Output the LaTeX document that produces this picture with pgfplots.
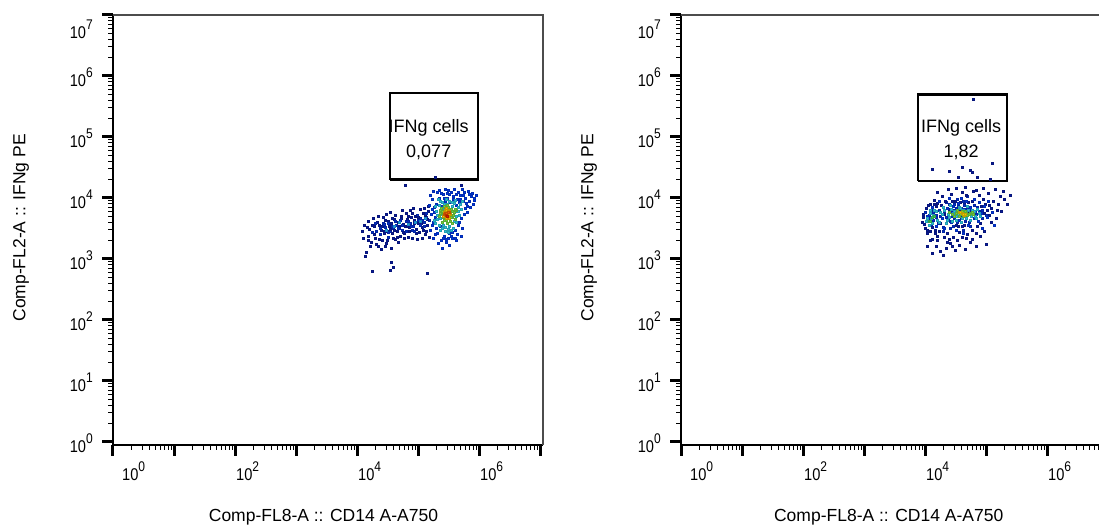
\documentclass[border=0pt]{standalone}
\usepackage{graphicx}
\usepackage{pgfplots}
\pgfplotsset{compat=1.18}
\usepackage{pgfplotstable}
\usepackage{fontspec}
\setmainfont{Liberation Sans}
\pgfplotsset{colormap={flowjo}{rgb255=(12,12,120) rgb255=(0,60,235) rgb255=(40,195,235) rgb255=(60,205,90) rgb255=(235,230,0) rgb255=(255,140,0) rgb255=(220,30,0)}}
\newcommand{\fjl}[1]{\scalebox{0.86}[1]{\fontsize{17}{17}\selectfont 10\raisebox{9pt}{\fontsize{14}{14}\selectfont #1}}}

% Left panel events (CD14 vs IFNg), c = relative density (0 low .. 1 high)
\pgfplotstableread{
x y c
1.5e4 2.4e3 0.05
1.6e4 3.1e3 0.05
1.7e4 1.9e3 0.05
1.8e4 2.7e3 0.12
1.9e4 3.4e3 0.05
2.0e4 2.2e3 0.05
2.1e4 2.9e3 0.12
2.2e4 1.6e3 0.05
2.3e4 3.6e3 0.05
2.4e4 2.5e3 0.12
2.5e4 3.0e3 0.05
2.6e4 2.0e3 0.05
2.7e4 3.9e3 0.12
2.8e4 2.6e3 0.05
2.9e4 3.3e3 0.12
3.0e4 1.8e3 0.05
3.1e4 2.8e3 0.05
3.2e4 4.2e3 0.05
3.3e4 2.3e3 0.12
3.4e4 3.5e3 0.05
3.5e4 2.9e3 0.12
3.6e4 1.5e3 0.05
3.7e4 3.8e3 0.05
3.8e4 2.6e3 0.05
3.9e4 3.2e3 0.12
4.0e4 4.5e3 0.05
4.2e4 2.1e3 0.05
4.4e4 3.6e3 0.12
4.6e4 2.8e3 0.05
4.8e4 4.0e3 0.05
5.0e4 3.2e3 0.12
5.2e4 2.4e3 0.05
5.4e4 4.6e3 0.05
5.6e4 3.0e3 0.12
5.8e4 3.7e3 0.05
6.0e4 2.6e3 0.05
6.3e4 4.2e3 0.12
6.6e4 3.4e3 0.05
6.9e4 5.0e3 0.05
7.2e4 2.9e3 0.05
7.5e4 3.9e3 0.12
7.8e4 4.8e3 0.05
8.1e4 2.2e3 0.05
8.4e4 3.5e3 0.12
8.8e4 4.4e3 0.05
9.2e4 3.1e3 0.05
9.6e4 5.3e3 0.12
1.0e5 3.8e3 0.05
1.05e5 2.7e3 0.05
1.1e5 4.6e3 0.12
1.15e5 3.3e3 0.05
1.2e5 5.6e3 0.05
1.25e5 4.0e3 0.12
1.3e5 2.5e3 0.05
1.35e5 4.9e3 0.12
1.4e5 3.6e3 0.05
1.45e5 6.0e3 0.05
1.5e5 4.3e3 0.12
1.45e4 3.3e3 0.05
1.55e4 2.0e3 0.05
1.75e4 3.6e3 0.05
1.95e4 2.5e3 0.05
2.15e4 4.0e3 0.05
2.35e4 2.1e3 0.05
2.55e4 3.4e3 0.05
2.75e4 2.9e3 0.05
2.95e4 4.4e3 0.05
3.15e4 2.0e3 0.05
3.45e4 3.1e3 0.05
3.75e4 4.7e3 0.05
4.1e4 3.0e3 0.05
4.5e4 2.3e3 0.05
4.9e4 3.5e3 0.05
5.3e4 5.1e3 0.05
5.7e4 2.7e3 0.05
6.2e4 3.5e3 0.05
6.7e4 4.5e3 0.05
7.3e4 3.3e3 0.05
7.9e4 5.6e3 0.05
8.6e4 3.8e3 0.05
9.4e4 2.6e3 0.05
1.02e5 4.9e3 0.05
1.12e5 3.9e3 0.05
1.22e5 3.0e3 0.05
1.32e5 5.3e3 0.05
1.42e5 4.5e3 0.05
1.5e4 4.2e3 0.05
1.65e4 1.6e3 0.05
1.85e4 4.6e3 0.05
2.05e4 1.75e3 0.05
2.25e4 5.0e3 0.05
2.45e4 1.45e3 0.05
2.65e4 4.8e3 0.05
2.85e4 1.65e3 0.05
3.05e4 5.4e3 0.05
3.25e4 3.9e3 0.12
3.55e4 5.8e3 0.05
3.85e4 2.2e3 0.05
4.3e4 5.2e3 0.05
4.7e4 1.9e3 0.05
5.1e4 4.3e3 0.12
5.5e4 6.2e3 0.05
5.9e4 2.2e3 0.05
6.4e4 5.6e3 0.05
6.9e4 2.3e3 0.05
7.4e4 6.4e3 0.05
8.0e4 3.0e3 0.12
8.3e4 6.8e3 0.05
9.0e4 5.0e3 0.05
9.8e4 2.1e3 0.05
1.07e5 6.6e3 0.05
1.17e5 2.2e3 0.05
1.27e5 6.9e3 0.05
1.37e5 2.9e3 0.05
1.47e5 7.4e3 0.05
1.55e5 2.3e3 0.05
1.2e4 2.8e3 0.05
1.3e4 3.6e3 0.05
1.25e4 2.2e3 0.05
2.0e4 3.9e3 0.12
2.4e4 3.2e3 0.12
2.8e4 3.7e3 0.12
3.3e4 2.7e3 0.12
3.8e4 3.5e3 0.12
4.2e4 4.1e3 0.12
4.7e4 3.2e3 0.12
5.5e4 3.6e3 0.12
6.5e4 2.9e3 0.12
7.0e4 4.1e3 0.12
7.7e4 3.5e3 0.12
8.8e4 2.8e3 0.12
9.9e4 4.3e3 0.12
1.08e5 3.6e3 0.12
1.18e5 4.4e3 0.12
1.28e5 3.4e3 0.12
1.38e5 5.7e3 0.12
1.4e4 1.3e3 0.05
1.35e4 1.1e3 0.05
3.7e4 8.9e2 0.05
3.9e4 7.4e2 0.05
3.5e4 6.6e2 0.05
1.8e4 6.2e2 0.05
1.4e5 5.9e2 0.05
1.9e5 2.2e4 0.05
6.2e4 1.6e4 0.05
5.2e5 1.6e4 0.05
5.0e4 4.0e3 0.3
7.0e4 3.7e3 0.3
9.0e4 4.0e3 0.3
1.1e5 4.2e3 0.3
1.3e5 4.6e3 0.3
3.0e4 3.0e3 0.3
4.0e4 3.4e3 0.3
1.6e5 3.0e3 0.15
1.7e5 6.5e3 0.15
1.8e5 2.2e3 0.15
1.9e5 4.8e3 0.15
2.0e5 8.0e3 0.15
2.1e5 2.6e3 0.15
2.2e5 1.0e4 0.15
2.3e5 3.4e3 0.15
2.4e5 2.0e3 0.15
2.5e5 7.2e3 0.15
2.6e5 1.15e4 0.15
2.7e5 2.4e3 0.15
2.8e5 9.0e3 0.15
2.9e5 1.9e3 0.15
3.0e5 1.2e4 0.15
3.2e5 2.6e3 0.15
3.4e5 8.6e3 0.15
3.6e5 2.2e3 0.15
3.8e5 1.05e4 0.15
4.0e5 3.0e3 0.15
4.2e5 7.6e3 0.15
4.4e5 2.5e3 0.15
4.6e5 1.25e4 0.15
4.8e5 4.0e3 0.15
5.0e5 9.4e3 0.15
5.3e5 3.2e3 0.15
5.6e5 1.1e4 0.15
5.9e5 6.8e3 0.15
6.2e5 8.2e3 0.15
6.6e5 1.3e4 0.15
7.0e5 9.0e3 0.15
7.5e5 1.05e4 0.15
8.0e5 8.0e3 0.15
8.5e5 1.0e4 0.15
1.7e5 9.5e3 0.15
2.05e5 1.25e4 0.15
3.1e5 1.35e4 0.15
3.9e5 1.4e4 0.15
5.4e5 1.4e4 0.15
2.15e5 1.8e3 0.15
3.3e5 1.7e3 0.15
4.3e5 2.0e3 0.15
1.75e5 4.0e3 0.15
1.65e5 5.5e3 0.15
6.4e5 5.8e3 0.15
7.2e5 7.0e3 0.15
5.1e5 2.4e3 0.15
2.45e5 1.5e3 0.15
1.55e5 7.5e3 0.15
1.6e5 1.1e4 0.15
1.8e5 1.3e4 0.15
1.85e5 7.0e3 0.15
1.95e5 2.5e3 0.15
2.25e5 1.35e4 0.15
2.3e5 8.8e3 0.15
2.4e5 1.2e4 0.15
2.55e5 2.2e3 0.15
2.65e5 1.0e4 0.15
2.75e5 1.4e4 0.15
2.85e5 2.1e3 0.15
3.05e5 1.0e4 0.15
3.15e5 2.2e3 0.15
3.3e5 1.15e4 0.15
3.45e5 2.4e3 0.15
3.55e5 1.25e4 0.15
3.7e5 2.7e3 0.15
3.75e5 9.4e3 0.15
4.05e5 2.2e3 0.15
4.15e5 1.15e4 0.15
4.35e5 9.6e3 0.15
4.55e5 3.6e3 0.15
4.7e5 8.4e3 0.15
4.9e5 1.1e4 0.15
5.2e5 4.6e3 0.15
5.5e5 8.8e3 0.15
5.8e5 1.25e4 0.15
6.0e5 1.0e4 0.15
6.8e5 1.15e4 0.15
7.8e5 1.2e4 0.15
8.2e5 9.2e3 0.15
9.0e5 1.1e4 0.15
6.5e5 7.4e3 0.15
5.7e5 5.4e3 0.15
1.85e5 5.8e3 0.15
2.0e5 3.2e3 0.15
1.7e5 3.6e3 0.15
1.9e5 3.8e3 0.35
2.0e5 6.0e3 0.35
2.1e5 4.5e3 0.35
2.2e5 7.5e3 0.35
2.3e5 3.0e3 0.35
2.4e5 5.5e3 0.35
2.5e5 8.5e3 0.35
2.6e5 3.6e3 0.35
2.7e5 6.8e3 0.35
2.8e5 2.8e3 0.35
3.0e5 8.0e3 0.35
3.2e5 3.5e3 0.35
3.4e5 6.4e3 0.35
3.6e5 8.6e3 0.35
3.8e5 3.2e3 0.35
4.0e5 6.0e3 0.35
4.2e5 4.0e3 0.35
4.5e5 7.0e3 0.35
4.8e5 5.2e3 0.35
5.2e5 6.5e3 0.35
2.35e5 9.0e3 0.35
4.1e5 9.2e3 0.35
3.1e5 2.7e3 0.35
1.85e5 4.4e3 0.35
1.95e5 7.2e3 0.35
2.05e5 5.2e3 0.35
2.15e5 9.4e3 0.35
2.25e5 3.6e3 0.35
2.35e5 4.6e3 0.35
2.5e5 3.2e3 0.35
2.65e5 8.0e3 0.35
2.9e5 9.5e3 0.35
3.1e5 3.1e3 0.35
3.3e5 8.8e3 0.35
3.45e5 3.0e3 0.35
3.65e5 7.4e3 0.35
3.85e5 8.2e3 0.35
3.95e5 4.2e3 0.35
4.3e5 5.0e3 0.35
4.6e5 6.0e3 0.35
5.0e5 7.8e3 0.35
5.4e5 9.0e3 0.35
2.8e5 3.3e3 0.35
2.2e5 5.0e3 0.55
2.35e5 6.3e3 0.55
2.45e5 4.0e3 0.55
2.6e5 5.6e3 0.55
2.7e5 7.2e3 0.55
2.8e5 4.3e3 0.55
2.9e5 6.0e3 0.55
3.0e5 3.8e3 0.55
3.1e5 7.0e3 0.55
3.2e5 5.0e3 0.55
3.35e5 4.2e3 0.55
3.5e5 6.5e3 0.55
3.7e5 4.8e3 0.55
3.9e5 5.8e3 0.55
4.1e5 4.5e3 0.55
4.3e5 6.2e3 0.55
2.55e5 4.8e3 0.55
3.6e5 3.9e3 0.55
2.3e5 5.6e3 0.55
2.4e5 6.8e3 0.55
2.65e5 4.3e3 0.55
2.8e5 6.6e3 0.55
2.95e5 4.3e3 0.55
3.05e5 7.5e3 0.55
3.3e5 5.6e3 0.55
3.45e5 4.8e3 0.55
3.6e5 6.0e3 0.55
3.8e5 5.2e3 0.55
4.0e5 6.6e3 0.55
2.5e5 6.0e3 0.55
2.6e5 5.0e3 0.75
2.75e5 6.2e3 0.75
2.85e5 4.6e3 0.75
3.0e5 5.6e3 0.75
3.15e5 6.4e3 0.75
3.25e5 4.7e3 0.75
3.4e5 5.5e3 0.75
2.95e5 6.8e3 0.75
2.7e5 5.8e3 0.75
2.9e5 6.2e3 0.75
3.1e5 5.3e3 0.75
3.3e5 6.0e3 0.75
2.8e5 5.0e3 0.75
3.2e5 5.5e3 0.75
2.7e5 5.4e3 0.88
2.8e5 5.6e3 0.9
3.2e5 5.9e3 0.9
2.95e5 5.7e3 0.9
3.1e5 5.8e3 0.9
2.9e5 5.3e3 0.95
3.05e5 5.0e3 1.0
}\leftdata

% Right panel events
\pgfplotstableread{
x y c
9.0e3 4.0e3 0.05
9.5e3 5.5e3 0.05
1.0e4 3.2e3 0.05
1.05e4 6.8e3 0.05
1.1e4 2.6e3 0.05
1.15e4 4.6e3 0.12
1.2e4 8.0e3 0.05
1.25e4 3.6e3 0.12
1.3e4 2.1e3 0.05
1.35e4 5.8e3 0.12
1.4e4 9.2e3 0.05
1.45e4 3.0e3 0.05
1.5e4 4.9e3 0.12
1.55e4 7.2e3 0.05
1.6e4 2.4e3 0.05
1.7e4 6.2e3 0.12
1.8e4 3.8e3 0.05
1.9e4 1.05e4 0.05
2.0e4 2.8e3 0.12
2.1e4 5.4e3 0.05
2.2e4 8.6e3 0.12
2.3e4 1.9e3 0.05
2.4e4 4.4e3 0.12
2.5e4 6.6e3 0.05
2.6e4 3.2e3 0.12
2.7e4 1.15e4 0.05
2.8e4 5.0e3 0.12
2.9e4 2.3e3 0.05
3.0e4 7.8e3 0.12
3.2e4 3.6e3 0.05
3.4e4 9.6e3 0.12
3.6e4 2.7e3 0.05
3.8e4 6.0e3 0.12
4.0e4 1.25e4 0.05
4.2e4 3.0e3 0.12
4.4e4 8.2e3 0.05
4.6e4 4.2e3 0.12
4.8e4 2.2e3 0.05
5.0e4 1.05e4 0.12
5.3e4 5.6e3 0.05
5.6e4 3.4e3 0.12
5.9e4 8.8e3 0.05
6.2e4 1.3e4 0.05
6.5e4 4.6e3 0.12
6.8e4 2.6e3 0.05
7.2e4 7.0e3 0.12
7.6e4 1.1e4 0.05
8.0e4 3.8e3 0.05
8.5e4 6.2e3 0.12
9.0e4 9.4e3 0.05
9.5e4 2.9e3 0.05
1.0e5 5.2e3 0.12
1.07e5 1.2e4 0.05
1.14e5 7.6e3 0.05
1.2e5 4.0e3 0.05
1.3e5 8.8e3 0.05
1.4e5 1.4e4 0.05
1.5e5 6.4e3 0.05
1.7e5 1.05e4 0.05
1.9e5 1.3e4 0.05
2.2e5 8.0e3 0.05
2.5e5 1.1e4 0.05
1.2e4 2.0e3 0.05
1.5e4 1.6e3 0.05
1.8e4 1.35e3 0.05
2.2e4 1.5e3 0.05
2.6e4 1.8e3 0.05
3.1e4 1.4e3 0.05
3.7e4 1.7e3 0.05
4.5e4 1.45e3 0.05
5.5e4 1.9e3 0.05
7.0e4 1.6e3 0.05
1.0e5 1.75e3 0.05
1.3e4 1.25e3 0.05
2.0e4 1.15e3 0.05
1.6e4 1.25e4 0.05
2.4e4 1.4e4 0.05
3.3e4 1.45e4 0.05
4.6e4 1.5e4 0.05
7.0e4 1.35e4 0.05
9.0e4 1.45e4 0.05
6.2e4 4.2e5 0.05
1.3e4 3.0e4 0.05
2.45e4 2.7e4 0.05
3.5e4 2.2e4 0.05
5.5e4 2.9e4 0.05
5.9e4 2.6e4 0.05
7.1e4 2.2e4 0.05
1.17e5 2.0e4 0.05
4.1e4 3.2e4 0.05
1.26e5 3.7e4 0.05
9.2e3 4.8e3 0.05
9.8e3 3.7e3 0.05
1.02e4 5.9e3 0.12
1.08e4 3.0e3 0.05
1.12e4 7.6e3 0.05
1.18e4 5.3e3 0.12
1.22e4 2.9e3 0.05
1.28e4 6.4e3 0.12
1.33e4 3.3e3 0.05
1.38e4 4.4e3 0.12
1.43e4 7.8e3 0.05
1.48e4 2.6e3 0.05
1.52e4 5.3e3 0.12
1.58e4 8.2e3 0.05
1.63e4 3.9e3 0.12
1.68e4 2.9e3 0.05
1.75e4 5.1e3 0.12
1.85e4 7.6e3 0.05
1.95e4 3.3e3 0.12
2.05e4 6.0e3 0.12
2.15e4 9.0e3 0.05
2.25e4 4.8e3 0.12
2.35e4 2.6e3 0.05
2.45e4 7.8e3 0.12
2.55e4 4.2e3 0.12
2.65e4 5.9e3 0.12
2.75e4 8.8e3 0.05
2.85e4 3.5e3 0.12
2.95e4 6.4e3 0.12
3.05e4 4.6e3 0.12
3.15e4 9.0e3 0.05
3.25e4 6.8e3 0.12
3.35e4 4.0e3 0.12
3.45e4 7.4e3 0.12
3.55e4 3.4e3 0.05
3.65e4 5.9e3 0.12
3.75e4 8.6e3 0.05
3.85e4 4.8e3 0.12
3.95e4 6.8e3 0.12
4.05e4 3.4e3 0.05
4.15e4 8.8e3 0.12
4.25e4 5.6e3 0.12
4.35e4 7.6e3 0.12
4.45e4 3.6e3 0.05
4.55e4 6.6e3 0.12
4.65e4 1.1e4 0.05
4.75e4 4.8e3 0.12
4.9e4 6.8e3 0.12
5.2e4 8.4e3 0.05
5.4e4 4.0e3 0.12
5.7e4 6.4e3 0.12
6.0e4 3.0e3 0.05
6.4e4 7.6e3 0.12
6.9e4 5.4e3 0.12
7.3e4 3.4e3 0.05
7.7e4 6.0e3 0.12
8.2e4 7.4e3 0.05
8.7e4 4.6e3 0.12
9.2e4 5.6e3 0.05
9.7e4 8.0e3 0.05
1.03e5 6.2e3 0.05
1.12e5 5.2e3 0.05
1.2e5 6.8e3 0.05
1.45e5 4.6e3 0.05
1.6e5 8.0e3 0.05
1.8e5 6.0e3 0.05
2.0e5 9.6e3 0.05
1.1e4 1.6e3 0.05
1.6e4 2.0e3 0.05
2.1e4 2.3e3 0.05
2.5e4 2.1e3 0.05
2.8e4 1.6e3 0.05
3.4e4 2.0e3 0.05
4.0e4 2.3e3 0.05
5.0e4 2.5e3 0.05
6.0e4 2.1e3 0.05
8.0e4 2.4e3 0.05
1.1e4 5.0e3 0.15
1.3e4 7.0e3 0.15
1.5e4 3.4e3 0.15
1.7e4 8.8e3 0.15
1.9e4 4.6e3 0.15
2.1e4 3.2e3 0.15
2.3e4 6.8e3 0.15
2.5e4 9.8e3 0.15
2.7e4 4.0e3 0.15
2.9e4 7.4e3 0.15
3.1e4 5.4e3 0.15
3.3e4 3.0e3 0.15
3.5e4 8.2e3 0.15
3.7e4 4.4e3 0.15
3.9e4 1.0e4 0.15
4.1e4 6.6e3 0.15
4.3e4 2.6e3 0.15
4.5e4 5.8e3 0.15
4.7e4 9.0e3 0.15
5.1e4 3.6e3 0.15
5.5e4 7.0e3 0.15
5.8e4 5.0e3 0.15
6.3e4 9.6e3 0.15
6.7e4 6.0e3 0.15
7.4e4 4.2e3 0.15
7.8e4 8.4e3 0.15
8.3e4 5.6e3 0.15
8.8e4 3.2e3 0.15
9.3e4 7.2e3 0.15
1.05e5 4.8e3 0.15
1.1e5 9.0e3 0.15
1.25e5 5.8e3 0.15
1.35e5 3.6e3 0.15
1.05e4 4.2e3 0.35
1.2e4 5.6e3 0.35
1.3e4 3.8e3 0.35
1.4e4 6.4e3 0.35
1.6e4 4.4e3 0.35
1.8e4 5.8e3 0.35
2.0e4 7.0e3 0.35
2.2e4 3.8e3 0.35
2.4e4 5.4e3 0.35
2.6e4 7.6e3 0.35
2.8e4 4.2e3 0.35
3.0e4 6.0e3 0.35
3.3e4 5.0e3 0.35
3.6e4 7.0e3 0.35
3.9e4 4.0e3 0.35
4.2e4 6.4e3 0.35
4.6e4 5.2e3 0.35
5.0e4 7.4e3 0.35
5.5e4 4.4e3 0.35
6.0e4 6.2e3 0.35
6.6e4 5.0e3 0.35
7.2e4 6.6e3 0.35
8.0e4 5.0e3 0.35
1.15e4 3.6e3 0.35
1.25e4 4.6e3 0.35
1.1e4 4.6e3 0.35
1.2e4 6.4e3 0.35
1.35e4 5.2e3 0.35
1.5e4 6.0e3 0.35
1.7e4 4.0e3 0.35
1.9e4 5.4e3 0.35
2.1e4 6.4e3 0.35
2.3e4 4.4e3 0.35
2.5e4 4.8e3 0.35
2.7e4 6.6e3 0.35
2.9e4 5.6e3 0.35
3.2e4 4.4e3 0.35
3.5e4 5.4e3 0.35
3.8e4 6.8e3 0.35
4.1e4 4.6e3 0.35
4.4e4 6.0e3 0.35
4.8e4 4.6e3 0.35
5.2e4 6.2e3 0.35
5.8e4 5.0e3 0.35
6.4e4 6.0e3 0.35
7.0e4 4.6e3 0.35
7.6e4 5.6e3 0.35
1.15e4 4.2e3 0.5
1.3e4 4.8e3 0.5
1.2e4 4.2e3 0.5
1.4e4 5.0e3 0.5
2.5e4 5.8e3 0.55
3.0e4 5.0e3 0.55
3.4e4 6.2e3 0.55
3.8e4 5.4e3 0.55
4.2e4 5.0e3 0.55
4.6e4 6.0e3 0.55
5.0e4 5.2e3 0.55
5.6e4 5.6e3 0.55
6.2e4 5.4e3 0.55
2.8e4 5.4e3 0.55
3.2e4 5.6e3 0.55
3.6e4 5.0e3 0.55
4.0e4 6.0e3 0.55
4.4e4 5.6e3 0.55
4.8e4 5.6e3 0.55
5.3e4 5.4e3 0.55
5.9e4 5.8e3 0.55
4.0e4 5.6e3 0.72
4.4e4 5.2e3 0.72
3.6e4 5.8e3 0.72
3.8e4 5.8e3 0.72
4.2e4 5.4e3 0.72
4.6e4 5.5e3 0.72
}\rightdata

\begin{document}
\begin{tikzpicture}
\useasboundingbox (0pt,0pt) rectangle (1099pt,527pt);

\begin{axis}[xmode=log, ymode=log,
    scale only axis, width=430pt, height=430pt, anchor=south west, at={(113pt,82pt)},
    xmin=1, xmax=1.12e7, ymin=0.891, ymax=1e7,
    axis x line*=bottom, axis y line*=left,
    axis line style={-, line width=2pt, black},
    tick align=outside,
    major tick length=11pt, minor tick length=5pt,
    major tick style={line width=3pt, black},
    minor tick style={line width=1.1pt, black},
    xtick={1,10,100,1000,1e4,1e5,1e6,1e7},
    xticklabels={\hspace*{8pt}\fjl{0},,\fjl{2},,\fjl{4},,\fjl{6},},
    minor xtick={2,3,4,5,6,7,8,9,20,30,40,50,60,70,80,90,200,300,400,500,600,700,800,900,2000,3000,4000,5000,6000,7000,8000,9000,2e4,3e4,4e4,5e4,6e4,7e4,8e4,9e4,2e5,3e5,4e5,5e5,6e5,7e5,8e5,9e5,2e6,3e6,4e6,5e6,6e6,7e6,8e6,9e6},
    ytick={1,10,100,1000,1e4,1e5,1e6,1e7},
    yticklabels={\fjl{0},\fjl{1},\fjl{2},\fjl{3},\fjl{4},\fjl{5},\fjl{6},},
    minor ytick={2,3,4,5,6,7,8,9,20,30,40,50,60,70,80,90,200,300,400,500,600,700,800,900,2000,3000,4000,5000,6000,7000,8000,9000,2e4,3e4,4e4,5e4,6e4,7e4,8e4,9e4,2e5,3e5,4e5,5e5,6e5,7e5,8e5,9e5,2e6,3e6,4e6,5e6,6e6,7e6,8e6,9e6},
    xticklabel style={anchor=north west, inner sep=0pt, xshift=1pt, yshift=-6pt},
    yticklabel style={anchor=east, inner sep=0pt, xshift=-9pt, yshift=-1.5pt},
    xlabel={Comp-FL8-A :: CD14 A-A750},
    ylabel={Comp-FL2-A :: IFNg PE},
    xlabel style={font=\fontsize{17.5}{20}\selectfont, at={(axis description cs:0.4895,-0.1674)}, anchor=center},
    ylabel style={font=\fontsize{17.5}{20}\selectfont, at={(axis description cs:-0.214,0.505)}, anchor=center},
    clip=false, colormap name=flowjo, point meta min=0, point meta max=1]
  \draw[gray!60!black, line width=1.2pt] (rel axis cs:0,1) -- (rel axis cs:1,1) -- (rel axis cs:1,0);
  \node[anchor=east, inner sep=0pt, xshift=-20pt, yshift=-14pt] at (rel axis cs:0,1) {\fjl{7}};
  \addplot[scatter, only marks, mark=square*, mark size=1.0pt, scatter src=explicit] table[x=x, y=y, meta=c] {\leftdata};
  \addplot[black, line width=2.5pt] coordinates {(3.47e4,2.0e4) (9.6e5,2.0e4) (9.6e5,5.25e5) (3.47e4,5.25e5) (3.47e4,2.0e4)};
  \node[align=center, font=\fontsize{18}{25}\selectfont] at (axis cs:1.5e5,9.1e4) {IFNg cells\\0,077};
\end{axis}

\begin{axis}[xmode=log, ymode=log,
    scale only axis, width=430pt, height=430pt, anchor=south west, at={(681pt,82pt)},
    xmin=1, xmax=1.12e7, ymin=0.891, ymax=1e7,
    axis x line*=bottom, axis y line*=left,
    axis line style={-, line width=2pt, black},
    tick align=outside,
    major tick length=11pt, minor tick length=5pt,
    major tick style={line width=3pt, black},
    minor tick style={line width=1.1pt, black},
    xtick={1,10,100,1000,1e4,1e5,1e6,1e7},
    xticklabels={\hspace*{8pt}\fjl{0},,\fjl{2},,\fjl{4},,\fjl{6},},
    minor xtick={2,3,4,5,6,7,8,9,20,30,40,50,60,70,80,90,200,300,400,500,600,700,800,900,2000,3000,4000,5000,6000,7000,8000,9000,2e4,3e4,4e4,5e4,6e4,7e4,8e4,9e4,2e5,3e5,4e5,5e5,6e5,7e5,8e5,9e5,2e6,3e6,4e6,5e6,6e6,7e6,8e6,9e6},
    ytick={1,10,100,1000,1e4,1e5,1e6,1e7},
    yticklabels={\fjl{0},\fjl{1},\fjl{2},\fjl{3},\fjl{4},\fjl{5},\fjl{6},},
    minor ytick={2,3,4,5,6,7,8,9,20,30,40,50,60,70,80,90,200,300,400,500,600,700,800,900,2000,3000,4000,5000,6000,7000,8000,9000,2e4,3e4,4e4,5e4,6e4,7e4,8e4,9e4,2e5,3e5,4e5,5e5,6e5,7e5,8e5,9e5,2e6,3e6,4e6,5e6,6e6,7e6,8e6,9e6},
    xticklabel style={anchor=north west, inner sep=0pt, xshift=1pt, yshift=-6pt},
    yticklabel style={anchor=east, inner sep=0pt, xshift=-9pt, yshift=-1.5pt},
    xlabel={Comp-FL8-A :: CD14 A-A750},
    ylabel={Comp-FL2-A :: IFNg PE},
    xlabel style={font=\fontsize{17.5}{20}\selectfont, at={(axis description cs:0.483,-0.1674)}, anchor=center},
    ylabel style={font=\fontsize{17.5}{20}\selectfont, at={(axis description cs:-0.214,0.505)}, anchor=center},
    clip=false, colormap name=flowjo, point meta min=0, point meta max=1]
  \draw[gray!60!black, line width=1.2pt] (rel axis cs:0,1) -- (rel axis cs:1,1) -- (rel axis cs:1,0);
  \node[anchor=east, inner sep=0pt, xshift=-20pt, yshift=-14pt] at (rel axis cs:0,1) {\fjl{7}};
  \addplot[scatter, only marks, mark=square*, mark size=1.0pt, scatter src=explicit] table[x=x, y=y, meta=c] {\rightdata};
  \addplot[black, line width=2.5pt] coordinates {(7.7e3,1.9e4) (2.2e5,1.9e4) (2.2e5,5.0e5) (7.7e3,5.0e5) (7.7e3,1.9e4)};
  \node[align=center, font=\fontsize{18}{25}\selectfont] at (axis cs:3.9e4,9.1e4) {IFNg cells\\1,82};
\end{axis}
\end{tikzpicture}
\end{document}
